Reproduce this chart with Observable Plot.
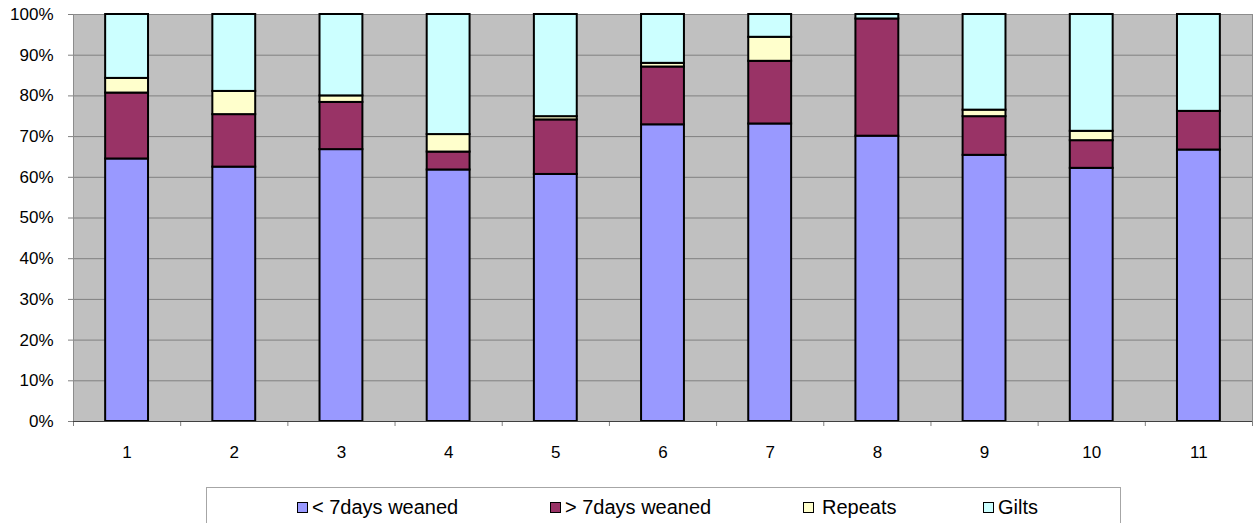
<!DOCTYPE html>
<html>
<head>
<meta charset="utf-8">
<script src="https://cdn.jsdelivr.net/npm/d3@7"></script>
<script src="https://cdn.jsdelivr.net/npm/@observablehq/plot@0.6"></script>
<style>
  html, body { margin: 0; padding: 0; background: #fff; }
  #wrap { position: relative; width: 1254px; height: 523px; overflow: hidden; font-family: "Liberation Sans", Arial, sans-serif; }
  #chart { position: absolute; left: 0; top: 0; }
  #legend { position: absolute; left: 206px; top: 487px; width: 915px; height: 60px; border: 1px solid #a6a6a6; box-sizing: border-box; background: #fff; }
  .item { position: absolute; top: 0; height: 40px; }
  .sw { position: absolute; top: 14px; width: 9px; height: 9px; border: 1px solid #000; }
  .lb { position: absolute; top: 7px; font-size: 20px; line-height: 24px; color: #000; white-space: nowrap; }
</style>
</head>
<body>
<div id="wrap">
  <div id="chart"></div>
  <div id="legend"></div>
</div>
<script>
// ---- data ----
const categories = [1, 2, 3, 4, 5, 6, 7, 8, 9, 10, 11];
const seriesNames = ["< 7days weaned", "> 7days weaned", "Repeats", "Gilts"];
const lt7Weaned = [64.5, 62.5, 66.8, 61.8, 60.7, 72.9, 73.1, 70.1, 65.4, 62.2, 66.7];
const gt7Weaned = [16.2, 12.9, 11.6, 4.4, 13.4, 14.2, 15.4, 28.8, 9.5, 6.8, 9.5];
const repeats   = [3.6, 5.7, 1.6, 4.3, 0.8, 0.9, 5.9, 0, 1.6, 2.3, 0];
const gilts     = [15.7, 18.9, 20.0, 29.5, 25.1, 12.0, 5.6, 1.1, 23.5, 28.7, 23.8];
const yTicks = [0, 10, 20, 30, 40, 50, 60, 70, 80, 90, 100];
const colors = ["#9999ff", "#993366", "#ffffcc", "#ccffff"];

// ---- derived table (stacking) ----
const seriesValues = [lt7Weaned, gt7Weaned, repeats, gilts];
const rows = [];
categories.forEach((c, i) => {
  let base = 0;
  seriesValues.forEach((vals, s) => {
    const v = vals[i];
    if (v > 0) rows.push({cat: c, series: seriesNames[s], y1: base, y2: base + v});
    base += v;
  });
});
const boundaries = categories.map(c => c - 0.5).concat([categories[categories.length - 1] + 0.5]);
const halfBar = 0.2;

const chart = Plot.plot({
  width: 1254,
  height: 470,
  marginLeft: 73,
  marginRight: 2,
  marginTop: 14,
  marginBottom: 49,
  x: {type: "linear", domain: [boundaries[0], boundaries[boundaries.length - 1]], label: null},
  y: {domain: [0, 100], label: null},
  color: {domain: seriesNames, range: colors},
  style: {fontFamily: "'Liberation Sans', Arial, sans-serif", fontSize: "17px", color: "#000", background: "transparent", overflow: "visible"},
  marks: [
    Plot.frame({fill: "#c0c0c0", stroke: null}),
    Plot.gridY({ticks: yTicks, stroke: "#808080", strokeOpacity: 1, strokeWidth: 1}),
    Plot.frame({stroke: "#8c8c8c", strokeWidth: 1}),
    Plot.rectY(rows, {
      x1: d => d.cat - halfBar,
      x2: d => d.cat + halfBar,
      y1: "y1",
      y2: "y2",
      fill: "series",
      stroke: "#000",
      strokeWidth: 2
    }),
    Plot.axisY({ticks: yTicks, tickFormat: d => d + "%", tickSize: 5, tickPadding: 15, stroke: "#808080", fill: "#000", fontSize: 17}),
    Plot.axisX({ticks: boundaries, tickFormat: () => "", tickSize: 5, stroke: "#808080"}),
    Plot.axisX({ticks: categories, tickFormat: d => String(d), tickSize: 0, tickPadding: 24, fill: "#000", fontSize: 17}),
    Plot.ruleY([0], {stroke: "#404040", strokeWidth: 1})
  ]
});
document.getElementById("chart").appendChild(chart);

// ---- legend ----
const legendPos = [ {sw: 90, lb: 105}, {sw: 343, lb: 358}, {sw: 596, lb: 615}, {sw: 776, lb: 791} ];
const legend = document.getElementById("legend");
seriesNames.forEach((name, i) => {
  const item = document.createElement("div");
  item.className = "item";
  const sw = document.createElement("div");
  sw.className = "sw";
  sw.style.left = legendPos[i].sw + "px";
  sw.style.background = colors[i];
  const lb = document.createElement("div");
  lb.className = "lb";
  lb.style.left = legendPos[i].lb + "px";
  lb.textContent = name;
  item.appendChild(sw);
  item.appendChild(lb);
  legend.appendChild(item);
});
</script>
</body>
</html>
